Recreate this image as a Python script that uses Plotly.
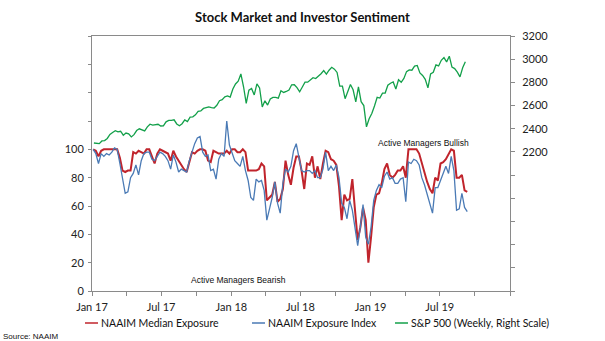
import pandas as pd
import plotly.graph_objects as go

# Weekly NAAIM survey readings (Wednesdays), Jan 2017 - Sep 2019
naaim_dates = pd.date_range("2017-01-04", periods=141, freq="7D")
naaim_median = [
    100, 99, 95, 99, 100, 100, 100, 100, 100, 100,
    94, 85, 84, 85, 85, 98, 97, 99, 98, 97,
    100, 100, 95, 90, 97, 100, 99, 98, 97, 92,
    99, 95, 92, 89, 86, 84, 92, 98, 97, 99,
    100, 100, 99, 92, 91, 99, 98, 97, 97, 97,
    99, 97, 100, 100, 98, 98, 100, 98, 85, 85,
    85, 85, 86, 90, 88, 64, 66, 68, 77, 63,
    65, 72, 92, 82, 75, 87, 95, 95, 85, 72,
    90, 89, 95, 80, 88, 79, 90, 99, 98, 93,
    92, 89, 74, 50, 68, 64, 65, 79, 57, 36,
    45, 59, 50, 20, 38, 59, 68, 69, 76, 86,
    90, 82, 80, 82, 85, 85, 88, 80, 100, 100,
    100, 100, 97, 90, 83, 77, 72, 69, 80, 78,
    90, 91, 93, 97, 100, 99, 80, 80, 82, 71, 70,
]
naaim_index = [
    100, 97, 90, 97, 95, 97, 96, 98, 101, 100,
    90, 80, 69, 70, 80, 83, 89, 82, 92, 97,
    98, 98, 93, 92, 95, 98, 97, 95, 92, 86,
    96, 91, 84, 86, 85, 84, 92, 99, 104, 108,
    109, 98, 95, 96, 85, 86, 79, 93, 97, 95,
    120, 103, 97, 92, 90, 88, 95, 85, 78, 66,
    64, 79, 77, 78, 71, 50, 58, 66, 77, 62,
    55, 76, 86, 84, 88, 99, 104, 95, 85, 84,
    85, 85, 83, 85, 80, 80, 86, 98, 85, 88,
    85, 89, 80, 62, 59, 51, 64, 57, 43, 32,
    45, 61, 38, 33, 45, 64, 71, 75, 73, 81,
    84, 79, 80, 76, 76, 79, 80, 63, 91, 90,
    93, 92, 89, 80, 75, 68, 61, 55, 73, 73,
    78, 83, 88, 83, 95, 85, 57, 58, 69, 59, 56,
]

# S&P 500 weekly closes (Fridays)
spx_dates = pd.date_range("2017-01-06", periods=140, freq="7D")
spx_close = [
    2276.98, 2274.64, 2271.31, 2294.69, 2297.42, 2316.10, 2351.16, 2367.34, 2383.12, 2372.60,
    2378.25, 2343.98, 2362.72, 2355.54, 2328.95, 2348.69, 2384.20, 2399.29, 2390.90, 2381.73,
    2415.82, 2439.07, 2431.77, 2433.15, 2438.30, 2423.41, 2425.18, 2459.27, 2472.54, 2472.10,
    2476.83, 2441.32, 2425.55, 2443.05, 2476.55, 2461.43, 2500.23, 2502.22, 2519.36, 2549.33,
    2553.17, 2575.21, 2581.07, 2587.84, 2582.30, 2578.85, 2602.42, 2642.22, 2651.50, 2675.81,
    2683.34, 2673.61,
    2743.15, 2786.24, 2810.30, 2872.87, 2762.13, 2619.55, 2732.22, 2747.30, 2691.25, 2786.57,
    2752.01, 2588.26, 2640.87, 2604.47, 2656.30, 2670.14, 2669.91, 2663.42, 2727.72, 2712.97,
    2721.33, 2734.62, 2779.03, 2779.66, 2754.88, 2718.37, 2759.82, 2801.31, 2801.83, 2818.82,
    2840.35, 2833.28, 2850.13, 2874.69, 2901.52, 2871.68, 2904.98, 2929.67, 2913.98, 2885.57,
    2767.13, 2767.78, 2658.69, 2723.06, 2781.01, 2736.27, 2632.56, 2760.17, 2633.08, 2599.95,
    2416.62, 2485.74,
    2531.94, 2596.26, 2670.71, 2664.76, 2706.53, 2707.88, 2775.60, 2792.67, 2803.69, 2743.07,
    2822.48, 2800.71, 2834.40, 2892.74, 2907.41, 2905.03, 2939.88, 2945.64, 2881.40, 2859.53,
    2826.06, 2752.06, 2873.34, 2886.98, 2950.46, 2941.76, 2990.41, 3013.77, 2976.61, 3025.86,
    2932.05, 2918.65, 2888.68, 2847.11, 2926.46, 2978.71,
]

# Axis ticks
x_tick_dates = pd.date_range("2017-01-01", "2020-01-01", freq="3MS")
x_tick_text = [d.strftime("%b %y") if d.month in (1, 7) and d.year < 2020 else "" for d in x_tick_dates]
left_ticks = list(range(0, 181, 20))
left_text = [str(v) if v <= 100 else "" for v in left_ticks]
right_ticks = list(range(1000, 3201, 200))
right_text = [str(v) if v >= 2200 else "" for v in right_ticks]

series_names = ["NAAIM Median Exposure", "NAAIM Exposure Index", "S&P 500 (Weekly, Right Scale)"]
series_colors = ["#C0242C", "#4A7AB5", "#13A04A"]

W, H = 605, 341
L, R, T, B = 92, 95, 36, 50
PW, PH = W - L - R, H - T - B


def px(x):
    return (x - L) / PW


def py(y):
    return (H - B - y) / PH


fig = go.Figure()
fig.add_trace(go.Scatter(x=naaim_dates, y=naaim_median, mode="lines", name=series_names[0],
                         line=dict(color=series_colors[0], width=2)))
fig.add_trace(go.Scatter(x=naaim_dates, y=naaim_index, mode="lines", name=series_names[1],
                         line=dict(color=series_colors[1], width=1.3)))
fig.add_trace(go.Scatter(x=spx_dates, y=spx_close, mode="lines", name=series_names[2],
                         line=dict(color=series_colors[2], width=1.3), yaxis="y2"))

axis_col = "#8a8a8a"
tick_font = dict(family="Lato", size=11, color="#222222")

fig.update_layout(
    width=W, height=H,
    margin=dict(l=L, r=R, t=T, b=B),
    paper_bgcolor="white", plot_bgcolor="white",
    showlegend=False,
    title=dict(text="<b>Stock Market and Investor Sentiment</b>", x=0.5, xanchor="center",
               y=1 - 17 / H, yanchor="middle", font=dict(family="Lato", size=13, color="#111111")),
    xaxis=dict(type="date", range=["2017-01-01", "2020-01-01"], tickmode="array",
               tickvals=x_tick_dates, ticktext=x_tick_text, showgrid=False, zeroline=False,
               showline=True, linecolor=axis_col, linewidth=1, mirror=True,
               ticks="outside", ticklen=4, tickcolor=axis_col, tickfont=tick_font,
               ticklabelstandoff=2),
    yaxis=dict(range=[0, 180], tickmode="array", tickvals=left_ticks, ticktext=left_text,
               showgrid=False, zeroline=False, showline=True, linecolor=axis_col, linewidth=1,
               ticks="outside", ticklen=3, tickcolor=axis_col, tickfont=tick_font,
               ticklabelstandoff=2),
    yaxis2=dict(range=[1000, 3200], overlaying="y", side="right", tickmode="array",
                tickvals=right_ticks, ticktext=right_text, showgrid=False, zeroline=False,
                showline=True, linecolor=axis_col, linewidth=1,
                ticks="outside", ticklen=4, tickcolor=axis_col, tickfont=tick_font,
                ticklabelstandoff=5),
)

small_font = dict(family="Liberation Sans", size=8.5, color="#111111")
fig.add_annotation(text="Active Managers Bullish", xref="paper", yref="paper",
                   x=px(423), y=py(143), xanchor="center", yanchor="middle",
                   showarrow=False, font=small_font)
fig.add_annotation(text="Active Managers Bearish", xref="paper", yref="paper",
                   x=px(238), y=py(280), xanchor="center", yanchor="middle",
                   showarrow=False, font=small_font)
fig.add_annotation(text="Source: NAAIM", xref="paper", yref="paper", x=px(1), y=py(336),
                   xanchor="left", yanchor="middle", showarrow=False,
                   font=dict(family="Liberation Sans", size=8, color="#111111"))

# Legend row below the axis
legend_x = [85, 252, 395]
legend_y = 323
for name, color, x0 in zip(series_names, series_colors, legend_x):
    fig.add_shape(type="line", xref="paper", yref="paper", x0=px(x0), x1=px(x0 + 13),
                  y0=py(legend_y), y1=py(legend_y), line=dict(color=color, width=1.5))
    fig.add_annotation(text=name, xref="paper", yref="paper", x=px(x0 + 14), y=py(legend_y),
                       xanchor="left", yanchor="middle", showarrow=False,
                       font=dict(family="Lato", size=10.5, color="#111111"))

fig.write_html("out.html")
